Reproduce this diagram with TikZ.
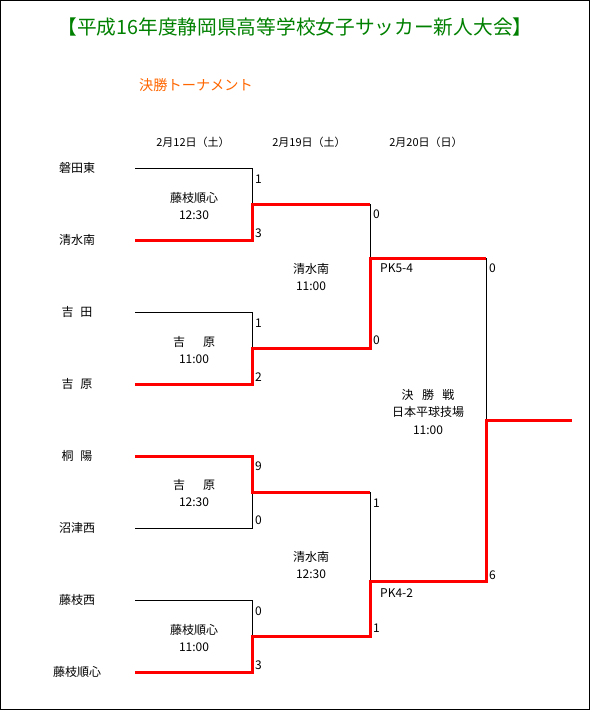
\documentclass[tikz,border=0pt]{standalone}
\usepackage{fontspec}
\setmainfont{Noto Sans CJK JP}
\usetikzlibrary{positioning}

\definecolor{titlegreen}{RGB}{0,128,0}
\definecolor{suborange}{RGB}{255,102,0}

\begin{document}
\begin{tikzpicture}[x=1pt,y=-1pt,
		team/.style={font=\fontsize{12}{14}\selectfont, inner sep=0pt},
		datehead/.style={font=\fontsize{11}{13}\selectfont, inner sep=0pt},
		venue/.style={font=\fontsize{12}{17.5}\selectfont, align=center, inner sep=0pt},
		score/.style={font=\fontsize{12}{14}\selectfont, anchor=west, inner sep=0pt},
		lose/.style={black, line width=1pt},
		win/.style={red, line width=3pt}]
		\useasboundingbox (0,0) rectangle (590,710);
		\draw[line width=1pt] (0.5,0.5) rectangle (589.5,709.5); % 外枠
		
		% 見出し
		\node (title) [font=\fontsize{19.7}{21}\selectfont, text=titlegreen] at (295,27) {【平成16年度静岡県高等学校女子サッカー新人大会】};
		\node (sub) [font=\fontsize{14.2}{16}\selectfont, text=suborange] at (196,85) {決勝トーナメント};
		\node (d1) [datehead] at (193,142) {2月12日（土）};
		\node (d2) [datehead] at (309,142) {2月19日（土）};
		\node (d3) [datehead] at (426,142) {2月20日（日）};
		
		% ---------------------- チーム名と線の起点 ----------------------
		\foreach \nm [count=\i] in {磐田東, 清水南, 吉\hspace{.55em}田, 吉\hspace{.55em}原,
			桐\hspace{.55em}陽, 沼津西, 藤枝西, 藤枝順心} {
			\node (t\i) [team] at (77,{168+72*(\i-1)}) {\nm};
			\coordinate (s\i) at (135,{168+72*(\i-1)}); % 横線の左端
		}
		
		% 組み合わせの合流点
		\coordinate (j1) at (252,204);
		\coordinate (j2) at (252,348);
		\coordinate (j3) at (252,492);
		\coordinate (j4) at (252,636);
		\coordinate (k1) at (370,258);
		\coordinate (k2) at (370,581);
		\coordinate (f) at (486,420);
		\coordinate (e) at (572,420);
		
		% ---------------------- 敗退側（黒線）----------------------
		\draw[lose] (s1) -| (j1);
		\draw[lose] (s3) -| (j2);
		\draw[lose] (s6) -| (j3);
		\draw[lose] (s7) -| (j4);
		\draw[lose] (j1 -| k1) -- (k1);
		\draw[lose] (j3 -| k2) -- (k2);
		\draw[lose] (k1 -| f) -- (f);
		
		% ---------------------- 勝ち上がり（赤線）----------------------
		\draw[win] (s2) -| (j1) -- (j1 -| k1);
		\draw[win] (s4) -| (j2) -| (k1) -- (k1 -| f);
		\draw[win] (s5) -| (j3) -- (j3 -| k2);
		\draw[win] (s8) -| (j4) -| (k2) -| (f) -- (e);
		
		% 得点
		\foreach \x/\y/\s [count=\n] in {255/179/1, 255/233/3, 255/323/1, 255/377/2,
			255/466/9, 255/520/0, 255/611/0, 255/665/3,
			373/214/0, 373/340/0, 373/503/1, 373/628/1,
			489/268/0, 489/575/6} {
			\node (sc\n) [score] at (\x,\y) {\s};
		}
		\node (pk1) [score] at (380,268) {PK5-4};
		\node (pk2) [score] at (380,593) {PK4-2};
		
		% 会場・時刻
		\node (v1) [venue] at (194,206) {藤枝順心\\12:30};
		\node (v2) [venue] at (194,350) {吉\hspace{1.5em}原\\11:00};
		\node (v3) [venue] at (194,493) {吉\hspace{1.5em}原\\12:30};
		\node (v4) [venue] at (194,638) {藤枝順心\\11:00};
		\node (v5) [venue] at (311,277) {清水南\\11:00};
		\node (v6) [venue] at (311,565) {清水南\\12:30};
		\node (v7) [venue] at (428,412) {決\hspace{.7em}勝\hspace{.7em}戦\\日本平球技場\\11:00};
	\end{tikzpicture}
\end{document}
